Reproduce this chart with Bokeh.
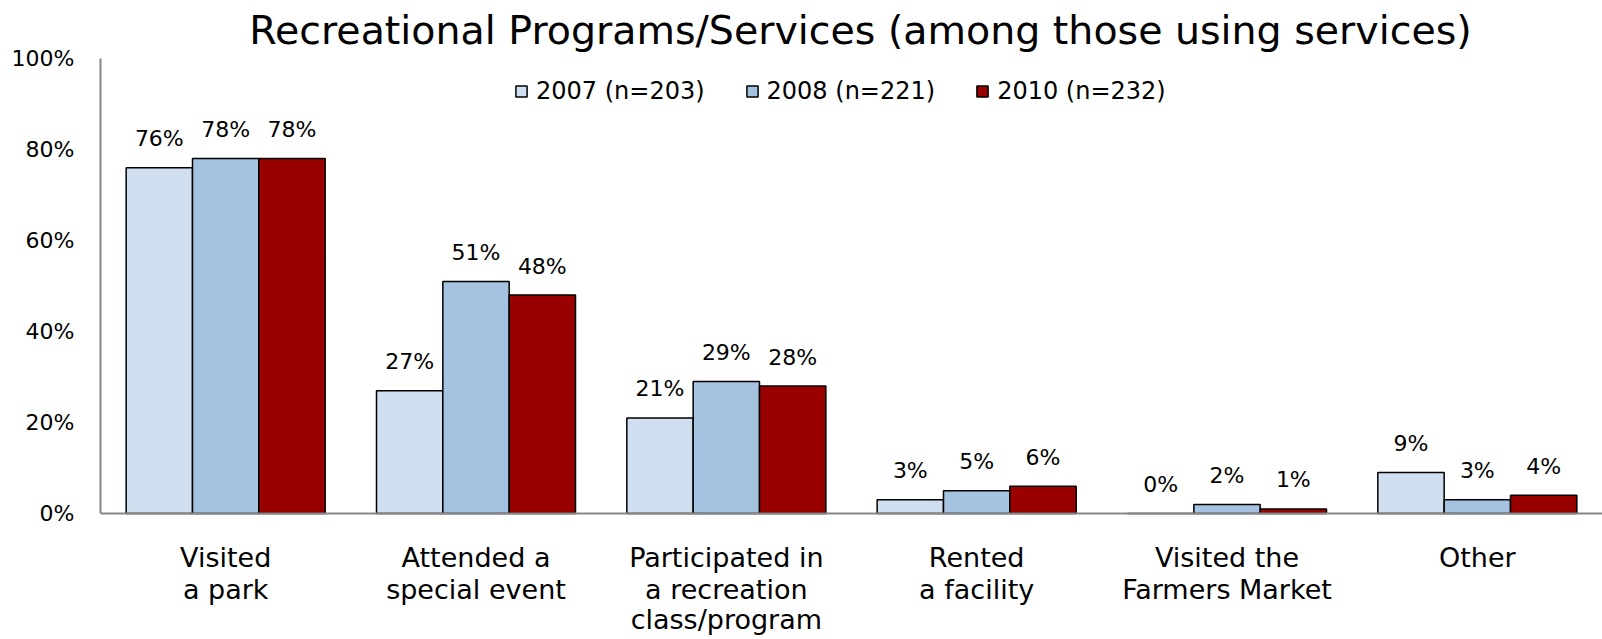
from bokeh.plotting import figure
from bokeh.models import (ColumnDataSource, FactorRange, Range1d, LabelSet, Label,
                          Legend, LegendItem, FixedTicker, PrintfTickFormatter, Span)
from bokeh.transform import dodge
from bokeh.core.properties import value
from bokeh.embed import file_html
from bokeh.resources import INLINE

# ---------------- data ----------------
categories = ["Visited\na park", "Attended a\nspecial event",
              "Participated in\na recreation\nclass/program", "Rented\na facility",
              "Visited the\nFarmers Market", "Other"]
series_names = ["2007 (n=203)", "2008 (n=221)", "2010 (n=232)"]
v2007 = [76, 27, 21, 3, 0, 9]
v2008 = [78, 51, 29, 5, 2, 3]
v2010 = [78, 48, 28, 6, 1, 4]
y_ticks = [0, 20, 40, 60, 80, 100]
title_text = "Recreational Programs/Services (among those using services)"

# ---------------- layout / styles ----------------
FONT = "DejaVu Sans"
colors = ["#D0DFF0", "#A5C2E0", "#990000"]
bar_w = 0.265
offsets = [-bar_w, 0.0, bar_w]

W, H = 1602, 639
LEFT = 100            # y-axis position in px
ZERO_PX = 513         # px from top of the 0% baseline
TOP_PX = 58           # px from top of the 100% line
ppu = (ZERO_PX - TOP_PX) / 100.0
y_start = -(H - ZERO_PX) / ppu
y_end = 100 + TOP_PX / ppu

p = figure(width=W, height=H, x_range=FactorRange(*categories),
           y_range=Range1d(y_start, y_end), output_backend="svg",
           toolbar_location=None, x_axis_location=None,
           min_border_left=LEFT, min_border_right=0, min_border_top=0,
           min_border_bottom=0)
p.outline_line_color = None
p.xgrid.grid_line_color = None
p.ygrid.grid_line_color = None
p.background_fill_color = "white"
p.border_fill_color = "white"

all_vals = [v2007, v2008, v2010]
legend_items = []
for name, vals, col, off in zip(series_names, all_vals, colors, offsets):
    src = ColumnDataSource(dict(cat=categories, v=vals, lbl=[f"{x}%" for x in vals]))
    r = p.vbar(x=dodge("cat", off, range=p.x_range), top="v", width=bar_w,
               source=src, fill_color=col, line_color="black", line_width=1.5)
    legend_items.append(LegendItem(label=name, renderers=[r]))
    p.add_layout(LabelSet(x=dodge("cat", off, range=p.x_range), y="v", text="lbl",
                          source=src, text_align="center", text_baseline="middle",
                          y_offset=29, text_font=value(FONT), text_font_size="22px",
                          text_color="black"))

# baseline
p.add_layout(Span(location=0, dimension="width", line_color="#868686", line_width=2))

# category labels under the baseline, one centred line at a time
line_offsets = [-53, -85, -115]
split = [c.split("\n") for c in categories]
for i, yoff in enumerate(line_offsets):
    cats = [c for c, parts in zip(categories, split) if len(parts) > i]
    txts = [parts[i] for parts in split if len(parts) > i]
    if not cats:
        continue
    s = ColumnDataSource(dict(cat=cats, txt=txts, base=[0] * len(cats)))
    p.add_layout(LabelSet(x="cat", y="base", text="txt", source=s,
                          text_align="center", text_baseline="alphabetic",
                          y_offset=yoff, text_font=value(FONT),
                          text_font_size="27px", text_color="black"))

# y axis
p.yaxis.bounds = (0, 100)
p.yaxis.ticker = FixedTicker(ticks=y_ticks)
p.yaxis.formatter = PrintfTickFormatter(format="%d%%")
p.yaxis.axis_line_color = "#868686"
p.yaxis.axis_line_width = 2
p.yaxis.major_tick_line_color = None
p.yaxis.minor_tick_line_color = None
p.yaxis.major_tick_out = 0
p.yaxis.major_label_standoff = 26
p.yaxis.major_label_text_font = FONT
p.yaxis.major_label_text_font_size = "22px"
p.yaxis.major_label_text_color = "black"

# legend
legend = Legend(items=legend_items, orientation="horizontal", location=(414, 534),
                glyph_width=14, glyph_height=14, label_standoff=8, spacing=40,
                padding=0, margin=0, border_line_color=None, background_fill_alpha=0,
                label_text_font=FONT, label_text_font_size="24px",
                label_text_color="black")
p.add_layout(legend)

# title
p.add_layout(Label(x=3.036, y=(ZERO_PX - 29) / ppu, text=title_text,
                   text_align="center", text_baseline="alphabetic", text_font=FONT,
                   text_font_size="39.5px", text_color="black"))

open("out.html", "w").write(file_html(p, INLINE))
